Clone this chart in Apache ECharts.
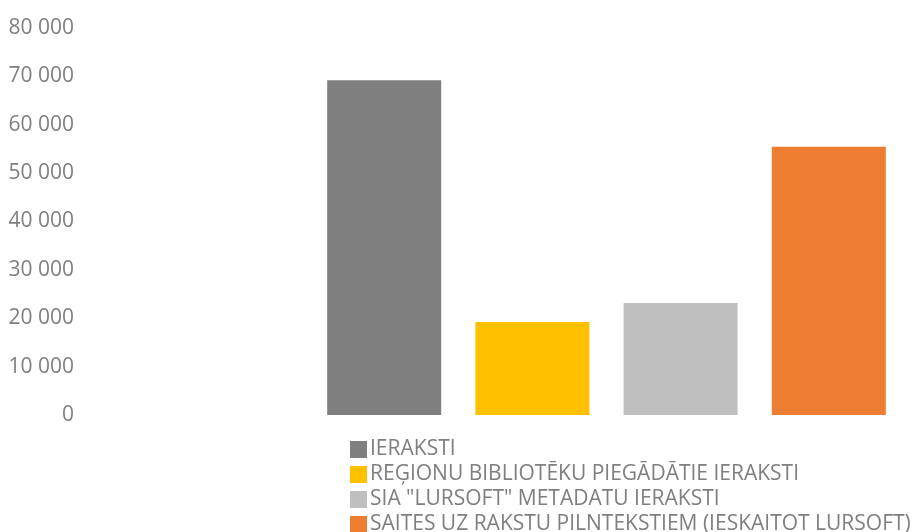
<!DOCTYPE html>
<html>
<head>
<meta charset="utf-8">
<script src="https://cdn.jsdelivr.net/npm/echarts@6/dist/echarts.min.js"></script>
<style>
html,body{margin:0;padding:0;background:#fff;}
#chart{width:913px;height:532px;}
</style>
</head>
<body>
<div id="chart"></div>
<script>
// Data
const categories = [''];
const seriesNames = [
  'IERAKSTI',
  'REĢIONU BIBLIOTĒKU PIEGĀDĀTIE IERAKSTI',
  'SIA "LURSOFT" METADATU IERAKSTI',
  'SAITES UZ RAKSTU PILNTEKSTIEM (IESKAITOT LURSOFT)'
];
const seriesValues = [69200, 19200, 23150, 55450];
const yMin = 0, yMax = 80000, yStep = 10000;

// Styles
const palette = ['#7f7f7f', '#ffc000', '#bfbfbf', '#ed7d31'];
const textColor = '#7f7f7f';
const fontFamily = '"Open Sans", sans-serif';

const chart = echarts.init(document.getElementById('chart'), null, {renderer: 'canvas'});

const series = seriesNames.map((name, i) => ({
  name: name,
  type: 'bar',
  data: [seriesValues[i]],
  barWidth: 114,
  barGap: '30%',
  itemStyle: {color: palette[i]},
  animation: false
}));

chart.setOption({
  animation: false,
  color: palette,
  grid: {left: 300, right: 0, top: 28, bottom: 117, containLabel: false},
  xAxis: {
    type: 'category',
    data: categories,
    axisLine: {show: false},
    axisTick: {show: false},
    axisLabel: {show: false},
    splitLine: {show: false}
  },
  yAxis: {
    type: 'value',
    min: yMin,
    max: yMax,
    interval: yStep,
    axisLine: {show: false},
    axisTick: {show: false},
    splitLine: {show: false},
    axisLabel: {
      margin: 226,
      color: textColor,
      fontFamily: fontFamily,
      fontSize: 21,
      padding: [0, 0, 5, 0],
      formatter: v => String(v).replace(/\B(?=(\d{3})+(?!\d))/g, ' ')
    }
  },
  legend: {
    type: 'plain',
    orient: 'vertical',
    left: 345,
    top: 434,
    height: 200,
    width: 600,
    itemWidth: 17,
    itemHeight: 17,
    itemGap: 4,
    icon: 'rect',
    textStyle: {color: textColor, fontFamily: fontFamily, fontSize: 21, lineHeight: 21, padding: [0,0,0,-2]},
    data: seriesNames
  },
  series: series
});
</script>
</body>
</html>
